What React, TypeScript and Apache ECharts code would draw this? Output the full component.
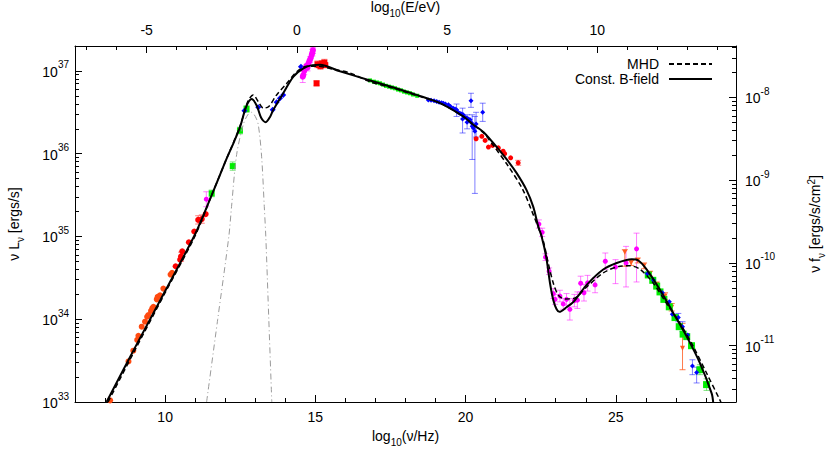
import React, { useEffect, useRef } from 'react';
import * as echarts from 'echarts';

// axis conversions
const LOG_H_EV = -14.383; // log10(E/eV) = log10(nu/Hz) + LOG_H_EV
const LOG_4PI_D2 = 44.68; // log10(nu L_nu) - log10(nu f_nu)

const X_MIN = 7;
const X_MAX = 29;
const Y_MIN = 33;
const Y_MAX = 37.301;

const bottomMajor = [10, 15, 20, 25];
const bottomMinor = [7, 8, 9, 11, 12, 13, 14, 16, 17, 18, 19, 21, 22, 23, 24, 26, 27, 28, 29];
const topMajor = [-5, 0, 5, 10];
const topMinor = [-7, -6, -4, -3, -2, -1, 1, 2, 3, 4, 6, 7, 8, 9, 11, 12, 13, 14];
const leftMajor = [33, 34, 35, 36, 37];
const rightMajor = [-11, -10, -9, -8];
const minorMantissa = [2, 3, 4, 5, 6, 7, 8, 9];

// model curves: [log10 nu, log10 nuLnu]
const constB = [
  [8.05, 33.0], [9.0, 33.66], [10.0, 34.34], [11.0, 35.03], [11.55, 35.5], [12.0, 35.9], [12.3, 36.15],
  [12.5, 36.33], [12.7, 36.57], [12.88, 36.66], [13.05, 36.58], [13.2, 36.43], [13.35, 36.38], [13.5, 36.45],
  [13.6, 36.53], [13.93, 36.73], [14.27, 36.93], [14.6, 37.03], [14.9, 37.07], [15.15, 37.075], [15.82, 36.995],
  [16.82, 36.885], [17.6, 36.8], [18.37, 36.71], [19.15, 36.61], [19.92, 36.45], [20.26, 36.35], [20.6, 36.26],
  [20.92, 36.13], [21.37, 35.93], [21.7, 35.765], [22.03, 35.56], [22.25, 35.36], [22.42, 35.12], [22.53, 35.0],
  [22.68, 34.76], [22.81, 34.435], [22.92, 34.23], [23.03, 34.12], [23.12, 34.09], [23.36, 34.145], [23.59, 34.21],
  [24.03, 34.415], [24.58, 34.6], [25.03, 34.68], [25.53, 34.725], [25.75, 34.71], [26.03, 34.6], [26.47, 34.355],
  [26.92, 34.07], [27.36, 33.79], [27.8, 33.47], [28.19, 33.105], [28.24, 33.0],
];
const mhd = [
  [8.1, 33.0], [9.0, 33.63], [10.0, 34.32], [11.0, 35.01], [11.55, 35.5], [12.0, 35.9], [12.5, 36.34],
  [12.75, 36.63], [12.93, 36.71], [13.1, 36.63], [13.27, 36.55], [13.45, 36.57], [13.71, 36.71], [14.05, 36.85],
  [14.38, 36.99], [14.71, 37.055], [15.1, 37.055], [15.6, 37.02], [16.15, 36.975], [16.82, 36.87], [17.6, 36.79],
  [18.39, 36.7], [19.15, 36.61], [19.92, 36.45], [20.26, 36.35], [20.6, 36.25], [20.92, 36.1], [21.4, 35.86],
  [21.9, 35.57], [22.2, 35.31], [22.45, 35.08], [22.59, 34.94], [22.75, 34.68], [22.92, 34.435], [23.09, 34.29],
  [23.31, 34.245], [23.59, 34.25], [24.03, 34.39], [24.58, 34.56], [25.14, 34.64], [25.47, 34.645], [25.8, 34.605],
  [26.25, 34.435], [26.69, 34.19], [27.14, 33.95], [27.58, 33.67], [28.02, 33.35], [28.47, 33.02], [28.5, 33.0],
];
const dust = [
  [11.38, 33.0], [11.75, 34.0], [12.12, 35.0], [12.21, 35.36], [12.38, 35.99], [12.6, 36.35], [12.75, 36.47],
  [12.88, 36.5], [13.0, 36.45], [13.1, 36.35], [13.21, 35.97], [13.3, 35.36], [13.35, 35.0], [13.45, 34.0], [13.55, 33.0],
];

// observations: [log nu, log nuLnu, (err low, err high)]
const radioPts = [
  [8.17, 33.02], [8.78, 33.49], [8.94, 33.62], [9.07, 33.75], [9.11, 33.8], [9.22, 33.91], [9.33, 33.97],
  [9.4, 34.03], [9.44, 34.05], [9.53, 34.1], [9.57, 34.13], [9.61, 34.15], [9.72, 34.24], [9.75, 34.27],
  [9.83, 34.29], [9.94, 34.37], [10.18, 34.54], [10.23, 34.56],
];
const redRadioPts = [
  [10.35, 34.64], [10.5, 34.72], [10.53, 34.76, 34.7, 34.81], [10.57, 34.82], [10.79, 34.93], [10.97, 35.06],
  [11.1, 35.2, 35.15, 35.25], [11.22, 35.21, 35.16, 35.26], [11.35, 35.27],
];
const magentaIR = [[11.37, 35.45, 35.36, 35.54]];
const greenIR = [
  [11.55, 35.52, 35.48, 35.56], [12.25, 35.85, 35.8, 35.9], [12.49, 36.28, 36.24, 36.32], [12.71, 36.54, 36.5, 36.58],
];
const blueIR = [
  [12.64, 36.52], [13.1, 36.56], [13.58, 36.53], [13.71, 36.62], [13.82, 36.67], [13.93, 36.71], [14.52, 37.05],
];
const magentaOpt = [
  [14.58, 36.93, 36.86, 37.0], [14.6, 36.95], [14.63, 37.0, 36.96, 37.04], [14.66, 37.03], [14.7, 37.06],
  [14.74, 37.04, 37.0, 37.08], [14.77, 37.09], [14.8, 37.12], [14.82, 37.135, 37.1, 37.17], [14.85, 37.16],
  [14.88, 37.196], [14.9, 37.22, 37.18, 37.26], [14.92, 37.25, 37.21, 37.28],
];
const redOpt = [
  [15.04, 36.85, 36.82, 36.88], [15.07, 37.08, 37.04, 37.12], [15.12, 37.07], [15.17, 37.06, 37.02, 37.1],
  [15.21, 37.09], [15.26, 37.08, 37.04, 37.12], [15.3, 37.1, 37.06, 37.14], [15.33, 37.07],
];
const greenX = [
  [16.82, 36.885], [16.95, 36.87], [17.05, 36.86], [17.15, 36.85], [17.25, 36.835], [17.35, 36.82], [17.45, 36.81],
  [17.55, 36.8], [17.65, 36.79], [17.75, 36.775], [17.85, 36.765], [17.95, 36.75], [18.05, 36.74], [18.15, 36.73],
  [18.25, 36.715], [18.39, 36.7],
];
const blueX = [
  [18.76, 36.65], [18.85, 36.645], [18.95, 36.64], [19.04, 36.63], [19.12, 36.62], [19.2, 36.615], [19.26, 36.61],
  [19.33, 36.6], [19.43, 36.59], [19.5, 36.57], [19.59, 36.55], [19.65, 36.54], [19.7, 36.53, 36.45, 36.6],
  [19.75, 36.5], [19.81, 36.49], [19.87, 36.48], [19.92, 36.47], [19.98, 36.44], [20.04, 36.43], [20.1, 36.42],
  [20.15, 36.41], [20.2, 36.37], [20.26, 36.31], [20.18, 36.64, 36.56, 36.73], [20.57, 36.5, 36.39, 36.61],
  [20.31, 36.27, 35.52, 36.45], [20.22, 36.33, 35.93, 36.47], [19.9, 36.42, 36.25, 36.55],
  [20.05, 36.38, 36.3, 36.47], [20.35, 36.36, 36.2, 36.5],
];
const redX = [
  [20.35, 36.18], [20.54, 36.21], [20.65, 36.16], [20.76, 36.08], [20.9, 36.1], [21.09, 36.07], [21.25, 36.03],
  [21.3, 36.0], [21.5, 35.95], [21.75, 35.89, 35.86, 35.92],
];
const magentaG = [
  [22.44, 35.15, 35.1, 35.2], [22.55, 35.05, 35.0, 35.1], [22.66, 34.75, 34.71, 34.79], [22.78, 34.58, 34.54, 34.62],
  [22.92, 34.31, 34.25, 34.37], [22.98, 34.24, 34.18, 34.3], [23.14, 34.28, 34.21, 34.35], [23.25, 34.185, 34.12, 34.25],
  [23.36, 34.24, 34.17, 34.31], [23.47, 34.12, 33.99, 34.25], [23.62, 34.225, 34.15, 34.3], [23.72, 34.23, 34.13, 34.33],
  [23.83, 34.435, 34.33, 34.52], [23.94, 34.32, 34.22, 34.42], [24.06, 34.44, 34.34, 34.53], [24.31, 34.415, 34.32, 34.5],
  [24.65, 34.7, 34.6, 34.8], [24.99, 34.63, 34.43, 34.72], [25.34, 34.68, 34.39, 34.88], [25.69, 34.85, 34.45, 35.04],
];
const orangeG = [
  [25.3, 34.81, 34.64, 34.84], [25.51, 34.68, 34.65, 34.71], [25.73, 34.71, 34.68, 34.74], [25.94, 34.645, 34.61, 34.68],
  [26.14, 34.55, 34.52, 34.58], [26.36, 34.42, 34.39, 34.45], [26.64, 34.28, 34.24, 34.32], [26.86, 34.145, 34.1, 34.19],
  [27.22, 33.65, 33.39, 33.95],
];
const blueG = [
  [26.05, 34.55], [26.25, 34.475], [26.55, 34.32], [26.78, 34.21], [26.88, 34.06], [27.08, 34.02, 33.97, 34.07],
  [27.22, 33.91, 33.85, 33.97], [27.39, 33.81], [27.55, 33.435, 33.33, 33.51], [27.69, 33.355, 33.23, 33.42],
];
const greenG = [
  [26.08, 34.535], [26.23, 34.47], [26.36, 34.4], [26.47, 34.33], [26.6, 34.24], [26.78, 34.15], [26.97, 34.02],
  [27.11, 33.91], [27.24, 33.82], [27.36, 33.79], [27.52, 33.68], [27.8, 33.39, 33.33, 33.45], [28.02, 33.21, 33.14, 33.28],
];

const FONT = '"Liberation Sans", Arial, Helvetica, sans-serif';

const logMinor = (lo: number, hi: number) => {
  const out: number[] = [];
  for (let d = Math.floor(lo) - 1; d <= Math.ceil(hi); d++) {
    minorMantissa.forEach((m) => {
      const v = d + Math.log10(m);
      if (v > lo && v < hi) out.push(v);
    });
  }
  return out;
};

const supRich = {
  b: { fontSize: 14, fontFamily: FONT, color: '#000', lineHeight: 16, verticalAlign: 'bottom' },
  s: { fontSize: 10, fontFamily: FONT, color: '#000', lineHeight: 10, verticalAlign: 'bottom', padding: [0, 0, 9, 0] },
};
const nameRich = {
  n: { fontSize: 14, fontFamily: FONT, color: '#000', lineHeight: 16, verticalAlign: 'top' },
  sub: { fontSize: 10, fontFamily: FONT, color: '#000', lineHeight: 10, verticalAlign: 'top', padding: [8, 0, 0, 0] },
  sup: { fontSize: 10, fontFamily: FONT, color: '#000', lineHeight: 10, verticalAlign: 'bottom', padding: [0, 0, 8, 0] },
};

const tickStyle = { color: '#000', width: 1 };

const makeAxis = (position: string, min: number, max: number, major: number[], minor: number[], labelOpts: any, nameOpts: any) => [
  {
    type: 'value', position, min, max,
    axisLine: { show: true, onZero: false, lineStyle: { color: '#000', width: 1 } },
    axisTick: { show: true, inside: true, length: 7, customValues: major, lineStyle: tickStyle },
    axisLabel: { show: true, customValues: major, color: '#000', fontSize: 14, fontFamily: FONT, ...labelOpts },
    splitLine: { show: false },
    nameLocation: 'middle',
    nameTextStyle: { rich: nameRich },
    ...nameOpts,
  },
  {
    type: 'value', position, min, max,
    axisLine: { show: false, onZero: false },
    axisTick: { show: true, inside: true, length: 4, customValues: minor, lineStyle: tickStyle },
    axisLabel: { show: false },
    splitLine: { show: false },
  },
];

const errSeries = (pts: number[][], color: string) => ({
  type: 'custom',
  silent: true,
  z: 2,
  clip: true,
  encode: { x: 0, y: [1, 2, 3] },
  data: pts.filter((p) => p.length === 4),
  renderItem: (_params: any, api: any) => {
    const x = api.value(0);
    const a = api.coord([x, api.value(3)]);
    const b = api.coord([x, api.value(2)]);
    const cap = 3;
    const st = { stroke: color, lineWidth: 1 };
    return {
      type: 'group',
      children: [
        { type: 'line', shape: { x1: a[0], y1: a[1], x2: b[0], y2: b[1] }, style: st },
        { type: 'line', shape: { x1: a[0] - cap, y1: a[1], x2: a[0] + cap, y2: a[1] }, style: st },
        { type: 'line', shape: { x1: b[0] - cap, y1: b[1], x2: b[0] + cap, y2: b[1] }, style: st },
      ],
    };
  },
});

const scatter = (pts: number[][], color: string, symbol: string, size: number, rotate = 0) => ({
  type: 'scatter',
  z: 3,
  silent: true,
  symbol,
  symbolSize: size,
  symbolRotate: rotate,
  itemStyle: { color, opacity: 1 },
  encode: { x: 0, y: 1 },
  data: pts.map((p) => [p[0], p[1]]),
});

const groups: [number[][], string, string, string, number, number][] = [
  [radioPts, '#ff4a10', 'rgba(255,74,16,0.5)', 'circle', 6, 0],
  [redRadioPts, '#ff0000', 'rgba(255,0,0,0.5)', 'circle', 6, 0],
  [magentaIR, '#ff00ff', 'rgba(255,0,255,0.5)', 'circle', 5, 0],
  [greenIR, '#00ee00', 'rgba(0,200,0,0.5)', 'rect', 6, 0],
  [blueIR, '#0000ff', 'rgba(0,0,255,0.5)', 'diamond', 6, 0],
  [magentaOpt, '#ff00ff', 'rgba(255,0,255,0.5)', 'circle', 6, 0],
  [redOpt, '#ff0000', 'rgba(255,0,0,0.5)', 'rect', 6, 0],
  [greenX, '#00ee00', 'rgba(0,200,0,0.5)', 'rect', 4, 0],
  [blueX, '#0000ff', 'rgba(0,0,255,0.5)', 'diamond', 5, 0],
  [redX, '#ff0000', 'rgba(255,0,0,0.5)', 'circle', 5, 0],
  [magentaG, '#ff00ff', 'rgba(255,0,255,0.5)', 'circle', 5, 0],
  [orangeG, '#ff5a1f', 'rgba(255,90,31,0.8)', 'triangle', 5, 180],
  [greenG, '#00ee00', 'rgba(0,200,0,0.5)', 'rect', 7, 0],
  [blueG, '#0000ff', 'rgba(0,0,255,0.5)', 'diamond', 5, 0],
];

const buildOption = () => {
  const bottom = makeAxis('bottom', X_MIN, X_MAX, bottomMajor, bottomMinor, { margin: 8 }, {
    name: '{n|log}{sub|10}{n|(ν/Hz)}', nameGap: 27,
  });
  const top = makeAxis('top', X_MIN + LOG_H_EV, X_MAX + LOG_H_EV, topMajor, topMinor, { margin: 9 }, {
    name: '{n|log}{sub|10}{n|(E/eV)}', nameGap: 28,
  });
  const left = makeAxis('left', Y_MIN, Y_MAX, leftMajor, logMinor(Y_MIN, Y_MAX), {
    margin: 6, formatter: (v: number) => `{b|10}{s|${Math.round(v)}}`, rich: supRich,
  }, { name: '{n|ν L}{sub|ν}{n| [ergs/s]}', nameGap: 52, nameRotate: 90 });
  const rMin = Y_MIN - LOG_4PI_D2;
  const rMax = Y_MAX - LOG_4PI_D2;
  const right = makeAxis('right', rMin, rMax, rightMajor, logMinor(rMin, rMax), {
    margin: 9, formatter: (v: number) => `{b|10}{s|${Math.round(v)}}`, rich: supRich,
  }, { name: '{n|ν f}{sub|ν}{n| [ergs/s/cm}{sup|2}{n|]}', nameGap: 72, nameRotate: 90 });

  const pointSeries: any[] = [];
  groups.forEach(([pts, color, errColor, sym, size, rot]) => {
    pointSeries.push(errSeries(pts, errColor));
    pointSeries.push(scatter(pts, color, sym, size, rot));
  });

  return {
    animation: false,
    backgroundColor: '#ffffff',
    textStyle: { fontFamily: FONT },
    grid: { left: 75, right: 94, top: 46, bottom: 65, containLabel: false, outerBoundsMode: 'none' },
    legend: {
      data: ['MHD', 'Const. B-field'],
      orient: 'vertical',
      right: 112,
      top: 52,
      align: 'right',
      itemWidth: 43,
      itemHeight: 14,
      itemGap: 1,
      selectedMode: false,
      itemStyle: { opacity: 0 },
      textStyle: { fontSize: 14, fontFamily: FONT, color: '#000', padding: [0, 5, 0, 0] },
    },
    xAxis: [bottom[0], top[0], bottom[1], top[1]],
    yAxis: [left[0], right[0], left[1], right[1]],
    series: [
      {
        name: 'dust', type: 'line', data: dust, symbol: 'none', smooth: 0.3, z: 4, silent: true,
        lineStyle: { color: '#9a9a9a', width: 1, type: [6, 3, 1, 3] },
      },
      ...pointSeries,
      {
        name: 'MHD', type: 'line', data: mhd, symbol: 'none', smooth: 0.3, z: 5, silent: true,
        itemStyle: { color: '#000' },
        lineStyle: { color: '#000', width: 1.5, type: [5, 3] },
      },
      {
        name: 'Const. B-field', type: 'line', data: constB, symbol: 'none', smooth: 0.3, z: 5, silent: true,
        itemStyle: { color: '#000' },
        lineStyle: { color: '#000', width: 2 },
      },
    ],
  };
};

export default function App() {
  const ref = useRef<HTMLDivElement>(null);
  useEffect(() => {
    if (!ref.current) return;
    const chart = echarts.init(ref.current, null, { renderer: 'svg' });
    chart.setOption(buildOption() as any);
    return () => chart.dispose();
  }, []);
  return (
    <div
      ref={ref}
      style={{ position: 'fixed', left: 0, top: 0, width: 830, height: 467, background: '#fff' }}
    />
  );
}
